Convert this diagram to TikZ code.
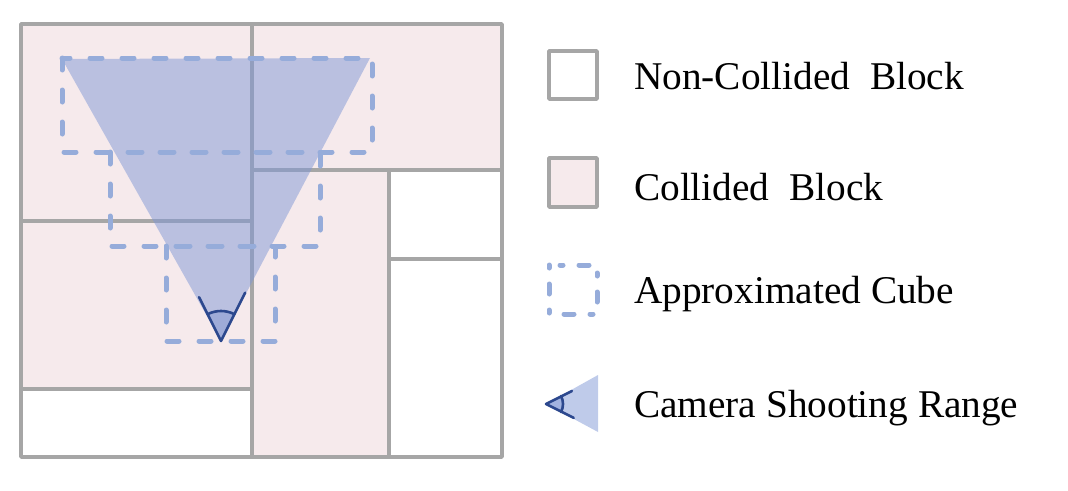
\documentclass[tikz,border=0pt]{standalone}
\usepackage{fontspec}
\setmainfont{Liberation Serif}
\usetikzlibrary{calc}
\definecolor{blkgray}{RGB}{166,166,166}
\definecolor{pinkfill}{RGB}{246,234,236}
\definecolor{cubeblue}{RGB}{150,172,218}
\definecolor{rangeblue}{RGB}{128,152,214}
\definecolor{camblue}{RGB}{44,72,142}
\definecolor{sectorblue}{RGB}{95,125,200}
\tikzset{
  blockbox/.style={draw=blkgray, line width=3.6pt, line join=round},
  collidedbox/.style={blockbox, fill=pinkfill},
  freebox/.style={blockbox, fill=white},
  cubebox/.style={draw=cubeblue, line width=5pt, line cap=round, dash pattern=on 12pt off 20pt},
  shootrange/.style={fill=rangeblue, fill opacity=0.5},
  camsector/.style={fill=sectorblue, fill opacity=0.3},
  camline/.style={draw=camblue, line width=2.6pt, line cap=round, line join=round},
  legendtext/.style={anchor=base west, inner sep=0pt, font=\fontsize{39.3}{47}\selectfont},
}
\begin{document}
\begin{tikzpicture}[x=1pt,y=-1pt]
\useasboundingbox (0,0) rectangle (1068,490);
% blocks
\draw[collidedbox] (21,24) rectangle (252,221);
\draw[collidedbox] (21,221) rectangle (252,389);
\draw[freebox] (21,389) rectangle (252,457);
\draw[collidedbox] (252,24) rectangle (502,170);
\draw[collidedbox] (252,170) rectangle (389,457);
\draw[freebox] (389,170) rectangle (502,259);
\draw[freebox] (389,259) rectangle (502,457);
% camera range
\coordinate (apex) at (221,341);
\coordinate (tl) at (62,59);
\coordinate (tr) at (370,58);
\fill[shootrange] (apex) -- (tl) -- (tr) -- cycle;
\fill[camsector] (apex) -- ($(apex)+(-63.4:30)$) arc[start angle=-63.4, end angle=-116.6, radius=30] -- cycle;
% cubes
\draw[cubebox] (62,58) rectangle (372,152);
\draw[cubebox] (110,152) rectangle (320,246);
\draw[cubebox] (166,246) rectangle (275,341);
% camera
\draw[camline] ($(apex)+(-116.6:49)$) -- (apex) -- ($(apex)+(-63.4:54)$);
\draw[camline] ($(apex)+(-63.4:30)$) arc[start angle=-63.4, end angle=-116.6, radius=30];

% legend
\draw[freebox] (549,51) rectangle (597,99);
\draw[collidedbox] (549,158) rectangle (597,207);
\draw[cubebox, dash pattern=on 3pt off 16pt on 10pt off 16pt, dash phase=0pt] (549,265) rectangle (597,314);
\coordinate (lapex) at (546,404);
\fill[shootrange] (lapex) -- (598,375) -- (598,432) -- cycle;
\fill[camsector] (lapex) -- ($(lapex)+(-28:17)$) arc[start angle=-28, end angle=28, radius=17] -- cycle;
\draw[camline] ($(lapex)+(-26.6:29)$) -- (lapex) -- ($(lapex)+(26.6:31)$);
\draw[camline] ($(lapex)+(-28:17)$) arc[start angle=-28, end angle=28, radius=17];

\node[legendtext] (t1) at (634,89) {Non-Collided~~Block};
\node[legendtext] (t2) at (634,200) {Collided~~Block};
\node[legendtext] (t3) at (634,303) {Approximated Cube};
\node[legendtext] (t4) at (634,417) {Camera Shooting Range};
\end{tikzpicture}
\end{document}
